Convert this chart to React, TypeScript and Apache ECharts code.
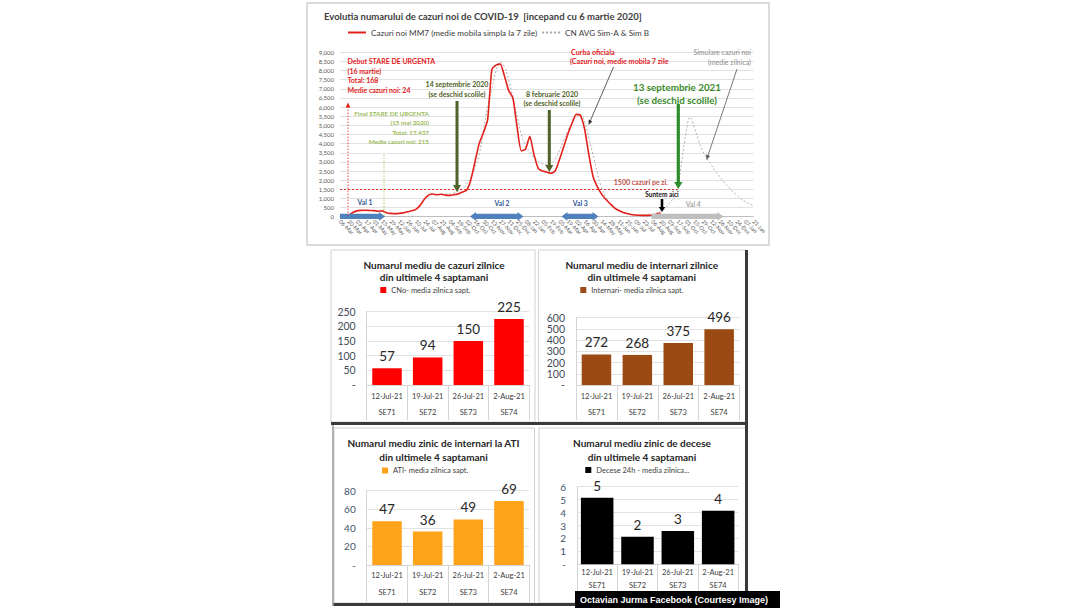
import { useEffect, useRef } from 'react';
import * as echarts from 'echarts';

// ---------- DATA ----------
const weekLabels = [
  '06-Mar', '13-Mar', '20-Mar', '27-Mar', '03-Apr', '10-Apr', '17-Apr', '24-Apr', '01-May', '08-May',
  '15-May', '22-May', '29-May', '05-Jun', '12-Jun', '19-Jun', '26-Jun', '03-Jul', '10-Jul', '17-Jul',
  '24-Jul', '31-Jul', '07-Aug', '14-Aug', '21-Aug', '28-Aug', '04-Sep', '11-Sep', '18-Sep', '25-Sep',
  '02-Oct', '09-Oct', '16-Oct', '23-Oct', '30-Oct', '06-Nov', '13-Nov', '20-Nov', '27-Nov', '04-Dec',
  '11-Dec', '18-Dec', '25-Dec', '01-Jan', '08-Jan', '15-Jan', '22-Jan', '29-Jan', '05-Feb', '12-Feb',
  '19-Feb', '26-Feb', '05-Mar', '12-Mar', '19-Mar', '26-Mar', '02-Apr', '09-Apr', '16-Apr', '23-Apr',
  '30-Apr', '07-May', '14-May', '21-May', '28-May', '04-Jun', '11-Jun', '18-Jun', '25-Jun', '02-Jul',
  '09-Jul', '16-Jul', '23-Jul', '30-Jul', '06-Aug', '13-Aug', '20-Aug', '27-Aug', '03-Sep', '10-Sep',
  '17-Sep', '24-Sep', '01-Oct', '08-Oct', '15-Oct', '22-Oct', '29-Oct', '05-Nov', '12-Nov', '19-Nov',
  '26-Nov', '03-Dec', '10-Dec', '17-Dec', '24-Dec', '31-Dec', '07-Jan', '14-Jan', '21-Jan',
];

const casesMM7 = [
  0, 15, 60, 230, 320, 345, 355, 340, 330, 300,
  320, 220, 180, 170, 180, 210, 270, 320, 400, 620,
  950, 1180, 1240, 1200, 1230, 1180, 1170, 1200, 1250, 1350,
  1450, 2000, 3000, 4000, 4600, 5300, 8050, 8300, 8350, 7700,
  6900, 6500, 4900, 3600, 3700, 4400, 3400, 2650, 2500, 2450,
  2380, 2500, 3100, 3800, 4500, 5100, 5600, 5550, 4800, 3400,
  2200, 1650, 1250, 950, 720, 500, 350, 250, 170, 120,
  95, 80, 70, 75, 90, 130, 200, null, null, null,
  null, null, null, null, null, null, null, null, null, null,
  null, null, null, null, null, null, null, null, null,
];

const simAvg = [
  null, null, null, null, null, null, null, null, null, null,
  null, null, null, null, null, null, null, null, null, null,
  null, null, null, null, 1250, 1250, 1250, 1300, 1400, 1550,
  1800, 2150, 2700, 3400, 4700, 6000, 7000, 8000, 8450, 8200,
  7500, 6500, 5500, 4500, 3900, 3550, 3250, 3020, 2900, 2830,
  2900, 3150, 3600, 4150, 4700, 5150, 5450, 5570, 5200, 4300,
  3400, 2400, 1600, 1100, 750, 500, 350, 250, 180, 130,
  100, 90, 90, 100, 130, 200, 300, 430, 700, 1000,
  1500, 3000, 4500, 5450, 4900, 4200, 3600, 3200, 2850, 2500,
  2200, 1900, 1650, 1400, 1200, 1000, 850, 700, 600,
];

const barDates = ['12-Jul-21', '19-Jul-21', '26-Jul-21', '2-Aug-21'];
const barWeeks = ['SE71', 'SE72', 'SE73', 'SE74'];
const cazuriValues = [57, 94, 150, 225];
const internariValues = [272, 268, 375, 496];
const atiValues = [47, 36, 49, 69];
const deceseValues = [5.15, 2.13, 2.57, 4.14];

const NAME_RED = 'Cazuri noi MM7 (medie mobila simpla la 7 zile)';
const NAME_SIM = 'CN AVG Sim-A & Sim B';
const NAME_CNO = 'CNo- media zilnica sapt.';
const NAME_INT = 'Internari- media zilnica sapt.';
const NAME_ATI = 'ATI- media zilnica sapt.';
const NAME_DEC = 'Decese 24h - media zilnica...';

// ---------- STYLE HELPERS ----------
const FONT = 'Lato, "Noto Sans", sans-serif';

const T = (x: number, y: number, text: string, fill: string, size: number, weight = 'bold', align = 'center', family = FONT) => ({
  type: 'text', x, y, z: 100, silent: true,
  style: {
    text, fill, font: `${weight} ${size}px ${family}`,
    textAlign: align, textVerticalAlign: 'middle', align, verticalAlign: 'middle',
  },
});

const L = (x1: number, y1: number, x2: number, y2: number, stroke: string, lineWidth = 1, lineDash?: number[], z = 60) => ({
  type: 'line', z, silent: true,
  shape: { x1, y1, x2, y2 },
  style: { stroke, lineWidth, lineDash: lineDash || null },
});

const R = (x: number, y: number, width: number, height: number, stroke: string, lineWidth = 1) => ({
  type: 'rect', z: -5, silent: true,
  shape: { x, y, width, height },
  style: { fill: 'rgba(0,0,0,0)', stroke, lineWidth },
});

const P = (points: number[][], fill: string, z = 60) => ({
  type: 'polygon', z, silent: true, shape: { points }, style: { fill },
});

function hArrow(x1: number, x2: number, y: number, color: string, double: boolean) {
  const h = 2.6, hw = 4.4, hl = 6;
  const pts = double
    ? [[x1, y], [x1 + hl, y - hw], [x1 + hl, y - h], [x2 - hl, y - h], [x2 - hl, y - hw], [x2, y],
       [x2 - hl, y + hw], [x2 - hl, y + h], [x1 + hl, y + h], [x1 + hl, y + hw]]
    : [[x1, y - h], [x2 - hl, y - h], [x2 - hl, y - hw], [x2, y], [x2 - hl, y + hw], [x2 - hl, y + h], [x1, y + h]];
  return P(pts, color, 50);
}

function vArrow(x: number, y1: number, y2: number, color: string, w = 3, hw = 4, hl = 7) {
  const h = w / 2;
  return P([[x - h, y1], [x + h, y1], [x + h, y2 - hl], [x + hw, y2 - hl], [x, y2], [x - hw, y2 - hl], [x - h, y2 - hl]], color, 70);
}

function thinArrow(x1: number, y1: number, x2: number, y2: number, color: string, w = 0.8) {
  const a = Math.atan2(y2 - y1, x2 - x1);
  const len = 5, half = 2;
  const bx = x2 - len * Math.cos(a), by = y2 - len * Math.sin(a);
  const nx = -Math.sin(a) * half, ny = Math.cos(a) * half;
  return [
    L(x1, y1, bx, by, color, w),
    P([[x2, y2], [bx + nx, by + ny], [bx - nx, by - ny]], color, 70),
  ];
}

function barAxes(idx: number, maxV: number, interval: number, labelColor: string, lineHeight: number, margin: number, tickLen: number, ySize: number) {
  return {
    x: {
      type: 'category', gridIndex: idx, data: barDates,
      axisLine: { show: true, lineStyle: { color: '#d4d4d4', width: 1 } },
      axisTick: { show: true, length: tickLen, lineStyle: { color: '#d4d4d4' } },
      axisLabel: {
        margin, interval: 0,
        formatter: (v: string, i: number) => `{d|${v}}\n{w|${barWeeks[i]}}`,
        rich: {
          d: { fontSize: 7.5, lineHeight, color: '#404040', fontFamily: FONT },
          w: { fontSize: 7.5, lineHeight, color: '#404040', fontFamily: FONT },
        },
      },
    },
    y: {
      type: 'value', gridIndex: idx, min: 0, max: maxV, interval,
      axisLine: { show: true, lineStyle: { color: '#d4d4d4' } },
      axisTick: { show: false },
      splitLine: { show: true, lineStyle: { color: '#e2e2e2', width: 1 } },
      axisLabel: {
        formatter: (v: number) => (v === 0 ? '-' : String(v)),
        color: labelColor, fontSize: ySize, margin: 11, fontFamily: FONT,
      },
    },
  };
}

function barSeries(name: string, idx: number, data: number[], color: string, barWidth: number, fmt?: (p: any) => string) {
  return {
    type: 'bar', name, xAxisIndex: idx, yAxisIndex: idx, data, barWidth,
    itemStyle: { color },
    label: {
      show: true, position: 'top', distance: 5, fontSize: 13.5, color: '#262626', fontFamily: FONT,
      formatter: fmt || ((p: any) => String(p.value)),
    },
  };
}

const barLegend = (name: string, left: number, top: number) => ({
  data: [name], left, top, padding: 0, icon: 'rect', itemWidth: 6, itemHeight: 6,
  textStyle: { fontSize: 7.5, color: '#404040', fontFamily: FONT },
  selectedMode: false,
});

export default function App() {
  const ref = useRef<HTMLDivElement>(null);

  useEffect(() => {
    if (!ref.current) return;
    const chart = echarts.init(ref.current, undefined, { renderer: 'svg' });

    const p1 = barAxes(1, 250, 50, '#3f4b5a', 16.3, 3.5, 35, 10.5);
    const p2 = barAxes(2, 600, 100, '#3f4b5a', 16.3, 3.5, 35, 10.5);
    const p3 = barAxes(3, 80, 20, '#44546a', 17.5, 1.5, 37, 10);
    const p4 = barAxes(4, 6, 1, '#44546a', 13, 1.5, 38, 10);

    const RED = '#e3211c';
    const OLIVE = '#4f6228';
    const LGREEN = '#9bbb59';
    const GREEN = '#3a8a2a';
    const BLUE = '#4f81bd';

    const graphics: any[] = [
      // frames
      R(307, 3, 462, 242, '#cfcfcf', 1.5),
      R(331, 250, 204, 172, '#d2d2d2', 1),
      R(538.5, 250, 208, 172, '#d2d2d2', 1),
      R(334, 428, 200.5, 175, '#cfcfcf', 1),
      R(539, 428, 206.5, 175, '#cfcfcf', 1),
      L(331, 423.5, 748, 423.5, '#3a3a3a', 3, undefined, -4),
      L(746.5, 250, 746.5, 606, '#3a3a3a', 3, undefined, -4),
      L(333, 604.5, 748, 604.5, '#3a3a3a', 3, undefined, -4),
      L(333, 425, 333, 606, '#9a9a9a', 1.5, undefined, -4),

      // main title
      T(324, 16, 'Evolutia numarului de cazuri noi de COVID-19  [incepand cu 6 martie 2020]', '#404040', 9.5, 'bold', 'left'),

      // Debut stare de urgenta
      T(347.5, 61, 'Debut STARE DE URGENTA', RED, 7, 'bold', 'left'),
      T(347.5, 70.5, '(16 martie)', RED, 7, 'bold', 'left'),
      T(347.5, 80, 'Total: 168', RED, 7, 'bold', 'left'),
      T(347.5, 89.5, 'Medie cazuri noi: 24', RED, 7, 'bold', 'left'),
      L(348, 216, 348, 106, RED, 0.8, [1.5, 1.5]),
      P([[345.6, 107.5], [348, 102.5], [350.4, 107.5]], RED, 70),

      // Final stare de urgenta
      T(429, 113.3, 'Final STARE DE URGENTA', LGREEN, 6.3, 'bold', 'right'),
      T(429, 122.7, '(15 mai 2020)', LGREEN, 6.3, 'bold', 'right'),
      T(429, 132.2, 'Total: 17.437', LGREEN, 6.3, 'bold', 'right'),
      T(429, 141.7, 'Medie cazuri noi: 215', LGREEN, 6.3, 'bold', 'right'),
      L(384, 216, 384, 153, LGREEN, 0.8, [1.5, 1.5]),

      // 14 septembrie 2020
      T(457, 84.3, '14 septembrie 2020', OLIVE, 7, 'bold'),
      T(457, 94, '(se deschid scolile)', OLIVE, 7, 'bold'),
      vArrow(457, 101, 192, OLIVE),

      // 8 februarie
      T(552, 93.7, '8 februarie 2020', OLIVE, 7, 'bold'),
      T(552, 103.3, '(se deschid scolile)', OLIVE, 7, 'bold'),
      vArrow(549.3, 110, 172, OLIVE),

      // curba oficiala
      T(571, 52, 'Curba oficiala', RED, 7.2, 'bold', 'left'),
      T(570, 61.7, '(Cazuri noi, medie mobila 7 zile', RED, 7.2, 'bold', 'left'),
      ...thinArrow(613.5, 67, 588.5, 125, '#333333'),

      // simulare
      T(751, 52, 'Simulare cazuri noi', '#8c8c8c', 7, 'normal', 'right'),
      T(751, 61.7, '(medie zilnica)', '#8c8c8c', 7, 'normal', 'right'),
      ...thinArrow(737, 69, 706.5, 160, '#555555'),

      // 13 septembrie 2021
      T(677, 87.3, '13 septembrie 2021', GREEN, 9.8, 'bold'),
      T(677, 99.5, '(se deschid scolile)', GREEN, 9.8, 'bold'),
      vArrow(678.3, 104, 189, '#2e8b2e', 3.2, 4.2, 7),

      // 1500 label
      T(668, 181.7, '1500 cazuri pe zi.', '#c0504d', 7, 'bold', 'right'),

      // suntem aici
      T(662, 194.3, 'Suntem aici', '#111111', 6.5, 'bold'),
      vArrow(662, 199, 212, '#000000', 2.6, 3.2, 5),

      // waves
      T(365, 201.7, 'Val 1', '#2f5597', 6.8, 'bold'),
      T(502, 203.3, 'Val 2', '#2f5597', 6.8, 'bold'),
      T(580.3, 203.3, 'Val 3', '#2f5597', 6.8, 'bold'),
      T(693.3, 204, 'Val 4', '#a6a6a6', 6.8, 'bold'),
      hArrow(340, 385, 216.4, BLUE, false),
      hArrow(470, 523.5, 216.4, BLUE, true),
      hArrow(561.5, 598.5, 216.4, BLUE, true),
      hArrow(651.5, 723.5, 216.4, '#bfbfbf', false),

      // bar panel titles
      T(434, 265, 'Numarul mediu de cazuri zilnice', '#262626', 10, 'bold'),
      T(434, 276.7, 'din ultimele 4 saptamani', '#262626', 10, 'bold'),
      T(641.7, 265, 'Numarul mediu de internari zilnice', '#262626', 10, 'bold'),
      T(641.7, 276.7, 'din ultimele 4 saptamani', '#262626', 10, 'bold'),
      T(433.5, 443.3, 'Numarul mediu zinic de internari la ATI', '#262626', 10, 'bold'),
      T(433.5, 456.7, 'din ultimele 4 saptamani', '#262626', 10, 'bold'),
      T(642, 443.3, 'Numarul mediu zinic de decese', '#262626', 10, 'bold'),
      T(642, 456.7, 'din ultimele 4 saptamani', '#262626', 10, 'bold'),

      // caption
      { type: 'rect', z: 200, silent: true, shape: { x: 575, y: 591, width: 205, height: 17 }, style: { fill: '#000000' } },
      { ...T(580, 599.5, 'Octavian Jurma Facebook (Courtesy Image)', '#ffffff', 9, 'bold', 'left', '"Liberation Sans", Arial, sans-serif'), z: 210 },
    ];

    chart.setOption({
      animation: false,
      backgroundColor: '#ffffff',
      textStyle: { fontFamily: FONT },
      grid: [
        { left: 340, top: 52.3, width: 413.3, height: 164.4, outerBoundsMode: 'none' },
        { left: 366.7, top: 311.7, width: 162.6, height: 73.3, outerBoundsMode: 'none' },
        { left: 576, top: 317.7, width: 163.6, height: 67.3, outerBoundsMode: 'none' },
        { left: 366.7, top: 490.7, width: 162.6, height: 74.3, outerBoundsMode: 'none' },
        { left: 577, top: 486.7, width: 161.3, height: 77.6, outerBoundsMode: 'none' },
      ],
      legend: [
        {
          data: [NAME_RED, NAME_SIM], left: 347, top: 28.5, padding: 0, itemWidth: 18, itemHeight: 8, itemGap: 4,
          itemStyle: { opacity: 0 },
          textStyle: { fontSize: 8.2, color: '#404040', fontFamily: FONT }, selectedMode: false,
        },
        barLegend(NAME_CNO, 380.3, 286),
        barLegend(NAME_INT, 580.3, 286),
        barLegend(NAME_ATI, 382, 466.5),
        barLegend(NAME_DEC, 585.3, 466),
      ],
      xAxis: [
        {
          type: 'category', gridIndex: 0, data: weekLabels, boundaryGap: false,
          axisLine: { show: true, lineStyle: { color: '#bfbfbf' } },
          axisTick: { show: false },
          axisLabel: { interval: 1, rotate: -45, fontSize: 5.5, color: '#595959', margin: 4, fontFamily: FONT },
        },
        p1.x, p2.x, p3.x, p4.x,
      ],
      yAxis: [
        {
          type: 'value', gridIndex: 0, min: 0, max: 9000, interval: 500,
          axisLine: { show: false }, axisTick: { show: false },
          splitLine: { show: true, lineStyle: { color: '#d9d9d9', width: 0.8 } },
          axisLabel: {
            fontSize: 6, color: '#595959', margin: 6, fontFamily: FONT,
            formatter: (v: number) => v.toLocaleString('en-US'),
          },
        },
        p1.y, p2.y, p3.y, p4.y,
      ],
      series: [
        {
          type: 'line', name: NAME_SIM, xAxisIndex: 0, yAxisIndex: 0, data: simAvg,
          symbol: 'none', smooth: 0.4, z: 2,
          lineStyle: { color: '#a6a6a6', width: 0.9, type: [2, 2] },
          itemStyle: { color: '#a6a6a6' },
        },
        {
          type: 'line', name: NAME_RED, xAxisIndex: 0, yAxisIndex: 0, data: casesMM7,
          symbol: 'none', smooth: 0.2, z: 3,
          lineStyle: { color: RED, width: 1.6 },
          itemStyle: { color: RED },
          markLine: {
            silent: true, symbol: 'none', label: { show: false },
            lineStyle: { color: RED, type: [2, 2], width: 0.9 },
            data: [[{ coord: [0, 1500] }, { coord: [80, 1500] }]],
          },
        },
        barSeries(NAME_CNO, 1, cazuriValues, '#ff0000', 29.5),
        barSeries(NAME_INT, 2, internariValues, '#9a4a12', 29.5),
        barSeries(NAME_ATI, 3, atiValues, '#ffa31a', 29.5),
        barSeries(NAME_DEC, 4, deceseValues, '#000000', 32.5, (p: any) => String(Math.round(p.value))),
      ],
      graphic: { elements: graphics },
    });

    return () => chart.dispose();
  }, []);

  return <div ref={ref} style={{ position: 'fixed', left: 0, top: 0, width: 1080, height: 608, background: '#fff' }} />;
}
